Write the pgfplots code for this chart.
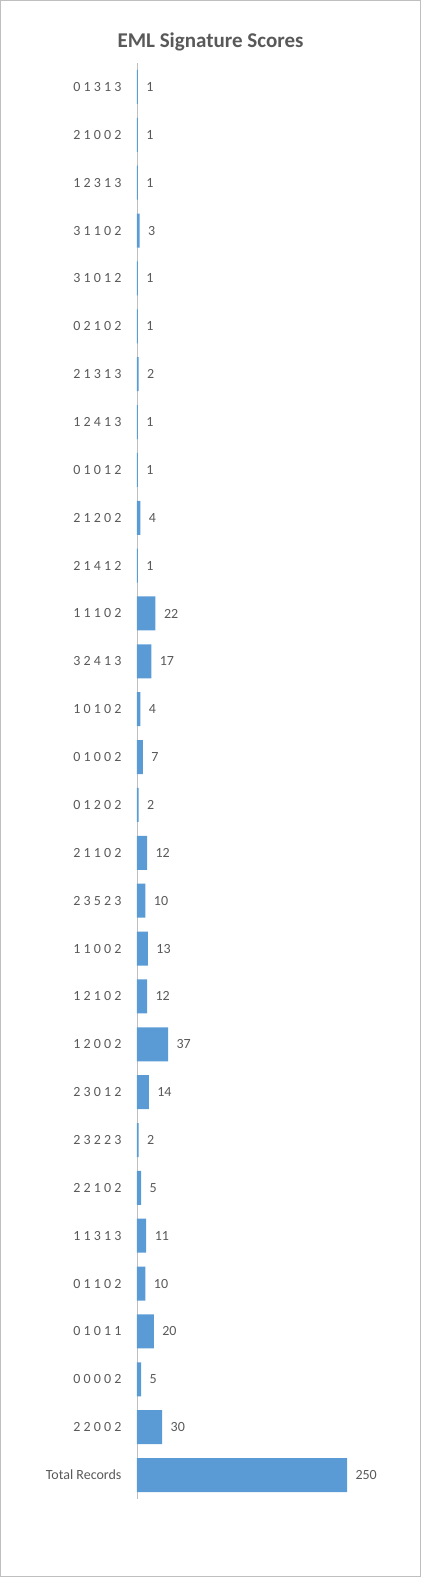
\documentclass[border=0pt]{standalone}
\usepackage{pgfplots}
\pgfplotsset{compat=1.18}
\usetikzlibrary{calc}
\usepackage{fontspec}
\setmainfont{Carlito}
\definecolor{barblue}{HTML}{5B9BD5}
\definecolor{txt}{HTML}{595959}
\begin{document}
\begin{tikzpicture}
\begin{axis}[name=ax,scale only axis,
 width=252pt,height=1436pt,xmin=0,xmax=300,ymin=-0.5,ymax=29.5,
 xbar,bar width=34pt,bar shift=0pt,
 axis x line=none,
 axis y line*=left, y axis line style={draw=black!25,line width=0.8pt},
 ytick={0,...,29},major tick length=0pt,
 yticklabels={Total Records,2 2 0 0 2,0 0 0 0 2,0 1 0 1 1,0 1 1 0 2,1 1 3 1 3,2 2 1 0 2,2 3 2 2 3,2 3 0 1 2,1 2 0 0 2,1 2 1 0 2,1 1 0 0 2,2 3 5 2 3,2 1 1 0 2,0 1 2 0 2,0 1 0 0 2,1 0 1 0 2,3 2 4 1 3,1 1 1 0 2,2 1 4 1 2,2 1 2 0 2,0 1 0 1 2,1 2 4 1 3,2 1 3 1 3,0 2 1 0 2,3 1 0 1 2,3 1 1 0 2,1 2 3 1 3,2 1 0 0 2,0 1 3 1 3},
 yticklabel style={font=\fontsize{14}{16}\selectfont,text=txt,xshift=-12pt},
 /pgf/number format/assume math mode=true,
 nodes near coords,nodes near coords align={horizontal},
 every node near coord/.append style={font=\fontsize{14}{16}\selectfont,text=txt,xshift=5pt},
 clip=false]
\addplot[fill=barblue,draw=none] coordinates {
(250,0)(30,1)(5,2)(20,3)(10,4)(11,5)(5,6)(2,7)(14,8)(37,9)(12,10)(13,11)(10,12)(12,13)(2,14)(7,15)(4,16)(17,17)(22,18)(1,19)(4,20)(1,21)(1,22)(2,23)(1,24)(1,25)(3,26)(1,27)(1,28)(1,29)};
\end{axis}
\pgfresetboundingbox
\coordinate (O) at ($(ax.south west)+(-137pt,-78pt)$);
\useasboundingbox (O) rectangle ($(O)+(421pt,1577pt)$);
\draw[color=black!25,line width=1pt] ($(O)+(0.5pt,0.5pt)$) rectangle ($(O)+(420.5pt,1576.5pt)$);
\node[font=\bfseries\fontsize{21}{24}\selectfont,text=txt] at ($(O)+(210.5pt,1535pt)$) {EML Signature Scores};
\end{tikzpicture}
\end{document}
